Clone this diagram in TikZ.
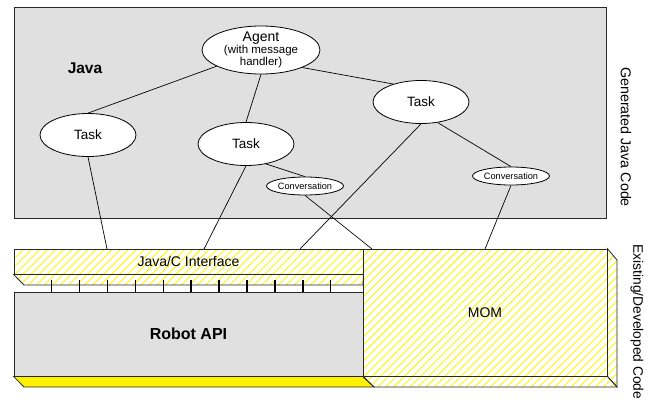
\documentclass[tikz,border=0pt]{standalone}
\usepackage{fontspec}
\setmainfont{Liberation Sans}
\usepackage{tikz}
\usetikzlibrary{shapes.geometric,patterns.meta}
\usepackage{xcolor}
\definecolor{javagray}{RGB}{224,224,224}
\definecolor{edgegray}{RGB}{40,40,40}
\definecolor{hatchyellow}{RGB}{255,245,0}
\tikzstyle{task} = [ellipse, draw=black, fill=white, inner sep=0pt, minimum width=96pt, minimum height=43pt, font=\fontsize{13.5}{15}\selectfont]
\tikzstyle{conv} = [ellipse, draw=black, fill=white, inner sep=0pt, minimum width=77pt, minimum height=18pt, font=\fontsize{9.2}{10}\selectfont]
\tikzstyle{hatched} = [draw=edgegray, pattern={Lines[angle=45,distance=5.7pt,line width=0.9pt]}, pattern color=hatchyellow]
\tikzstyle{layer} = [draw=edgegray, fill=javagray, inner sep=0pt]
\tikzstyle{link} = [draw=black, line width=0.7pt]

\begin{document}
\begin{tikzpicture}[x=1pt, y=-1pt, line width=0.8pt]
\useasboundingbox (0,0) rectangle (650,402);

% Generated Java code
\node[layer, minimum width=592pt, minimum height=211pt] (java) at (310,112.5) {};
\node[font=\bfseries\fontsize{15.5}{18}\selectfont] (javalabel) at (85,68) {Java};
\node[ellipse, draw=black, fill=white, inner xsep=0pt, inner ysep=-8pt, minimum width=118pt, minimum height=48pt, align=center] (agent) at (261,50)
  {{\fontsize{14}{14.5}\selectfont Agent}\\{\fontsize{11.5}{14.5}\selectfont (with message}\\{\fontsize{11.5}{14.5}\selectfont handler)}};
\node[task] (task1) at (88,135) {Task};
\node[task] (task2) at (246,144) {Task};
\node[task] (task3) at (421,102) {Task};
\node[conv] (conv1) at (305,186) {Conversation};
\node[conv] (conv2) at (511,176) {Conversation};

% Existing code: Java/C interface and Robot API
\node[hatched, minimum width=349pt, minimum height=25pt, inner sep=0pt, font=\fontsize{14}{16}\selectfont] (iface) at (188.5,261.5) {Java/C Interface};
\path[hatched] (iface.south west) -- (iface.south east) -- (363,285) -- (24,285) -- cycle;
\node[layer, minimum width=349pt, minimum height=84pt, font=\bfseries\fontsize{16}{19}\selectfont] (robot) at (188.5,334) {Robot API};
\path[draw=edgegray, fill=yellow] (robot.south west) -- (robot.south east) -- (374,387) -- (24,387) -- cycle;
\foreach \i in {0,...,10}
  \draw[line width=1.5pt] (51.7+27.9*\i,280) -- (51.7+27.9*\i,292);

% MOM block
\node[hatched, minimum width=244pt, minimum height=127pt, inner sep=0pt, font=\fontsize{14}{16}\selectfont] (mom) at (485,312.5) {MOM};
\path[hatched] (mom.north east) -- (617,260) -- (617,387) -- (mom.south east) -- cycle;
\path[hatched] (mom.south west) -- (mom.south east) -- (617,387) -- (374,387) -- cycle;

% Side notes
\node[rotate=-90, font=\fontsize{14.3}{16}\selectfont] (gencode) at (626,137) {Generated Java Code};
\node[rotate=-90, anchor=west, inner sep=0pt, font=\fontsize{13.8}{16}\selectfont] (existcode) at (637,244) {Existing/Developed Code};

% Links
\coordinate (j1) at (107,249);
\coordinate (j2) at (204,249);
\coordinate (j3) at (300,249);
\coordinate (m1) at (372,249);
\coordinate (m2) at (485,249);
\draw[link] (agent) -- (task1.north);
\draw[link] (agent.south) -- (task2.north);
\draw[link] (agent.-23) -- (task3.147);
\draw[link] (task1.south) -- (j1);
\draw[link] (task2.south) -- (j2);
\draw[link] (task3.south) -- (j3);
\draw[link] (task2.-45) -- (conv1.north);
\draw[link] (conv1.south) -- (m1);
\draw[link] (task3.-51) -- (conv2.north);
\draw[link] (conv2.south) -- (m2);
\end{tikzpicture}
\end{document}
